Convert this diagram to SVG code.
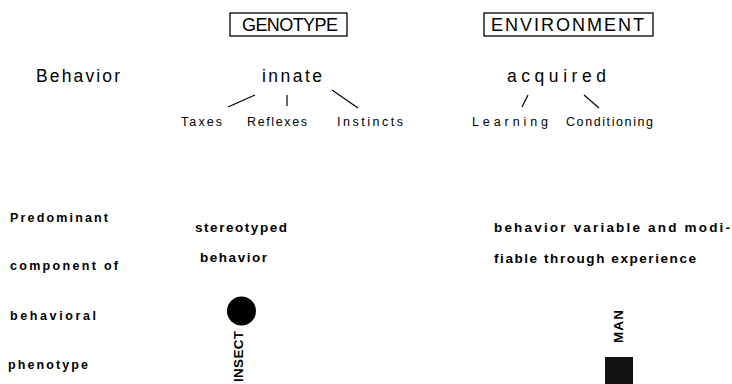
<svg xmlns="http://www.w3.org/2000/svg" width="732" height="384" viewBox="0 0 732 384">
<style>
text{font-family:"Liberation Sans",Arial,sans-serif;fill:#000}
.hd{font-size:18px}
.big{font-size:17.5px}
.sm{font-size:12.5px}
.lo{font-size:13.5px;font-weight:bold}
.side{font-size:12.5px;font-weight:bold}
.box{fill:none;stroke:#000;stroke-width:1.3}
.ln{stroke:#000;stroke-width:1.2;fill:none}
</style>
<rect width="732" height="384" fill="#fff"/>
<g id="genotype">
<rect class="box" x="230" y="13" width="117" height="23"/>
<text class="hd" x="242" y="31" textLength="96" lengthAdjust="spacing">GENOTYPE</text>
</g>
<g id="environment">
<rect class="box" x="484" y="13" width="169" height="23"/>
<text class="hd" x="491" y="31" textLength="153" lengthAdjust="spacing">ENVIRONMENT</text>
</g>
<g id="behavior-label"><text class="big" x="36" y="82" textLength="84" lengthAdjust="spacing">Behavior</text></g>
<g id="innate"><text class="big" x="262" y="82" textLength="60" lengthAdjust="spacing">innate</text></g>
<g id="acquired"><text class="big" x="507" y="82" textLength="99" lengthAdjust="spacing">acquired</text></g>
<g id="taxes"><text class="sm" x="181" y="126" textLength="41" lengthAdjust="spacing">Taxes</text></g>
<g id="reflexes"><text class="sm" x="247" y="126" textLength="60" lengthAdjust="spacing">Reflexes</text></g>
<g id="instincts"><text class="sm" x="337" y="126" textLength="66" lengthAdjust="spacing">Instincts</text></g>
<g id="learning"><text class="sm" x="472" y="126" textLength="76" lengthAdjust="spacing">Learning</text></g>
<g id="conditioning"><text class="sm" x="566" y="126" textLength="87" lengthAdjust="spacing">Conditioning</text></g>
<g id="connectors">
<line class="ln" x1="255" y1="95" x2="228" y2="107"/>
<line class="ln" x1="287" y1="95" x2="287" y2="106"/>
<line class="ln" x1="332" y1="90" x2="358" y2="108"/>
<line class="ln" x1="528" y1="95" x2="522" y2="107"/>
<line class="ln" x1="584" y1="95" x2="599" y2="108"/>
</g>
<g id="side-label">
<text class="side" x="10" y="222" textLength="98" lengthAdjust="spacing">Predominant</text>
<text class="side" x="10" y="270" textLength="108" lengthAdjust="spacing">component of</text>
<text class="side" x="10" y="320" textLength="86" lengthAdjust="spacing">behavioral</text>
<text class="side" x="8" y="369" textLength="80" lengthAdjust="spacing">phenotype</text>
</g>
<g id="stereotyped">
<text class="lo" x="195" y="232" textLength="92" lengthAdjust="spacing">stereotyped</text>
<text class="lo" x="200" y="262" textLength="67" lengthAdjust="spacing">behavior</text>
</g>
<g id="variable">
<text class="lo" x="494" y="232" textLength="236" lengthAdjust="spacing">behavior variable and modi-</text>
<text class="lo" x="494" y="263" textLength="202" lengthAdjust="spacing">fiable through experience</text>
</g>
<g id="insect">
<circle cx="241.5" cy="311" r="14.5" fill="#000"/>
<text class="lo" font-size="14" transform="translate(243,331) rotate(-90)" text-anchor="end" textLength="51" lengthAdjust="spacing">INSECT</text>
</g>
<g id="man">
<text class="lo" font-size="13" transform="translate(623,310) rotate(-90)" text-anchor="end" textLength="33" lengthAdjust="spacing">MAN</text>
<rect x="605" y="357" width="28" height="30" fill="#111"/>
</g>
</svg>
